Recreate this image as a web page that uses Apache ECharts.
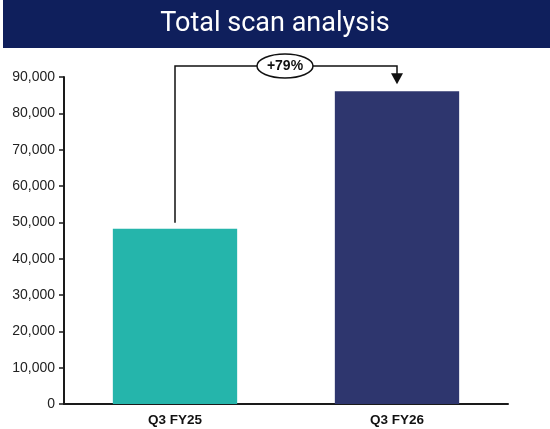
<!DOCTYPE html>
<html>
<head>
<meta charset="utf-8">
<script src="https://cdn.jsdelivr.net/npm/echarts@6/dist/echarts.min.js"></script>
<style>html,body{margin:0;padding:0;background:#fff}#c{width:550px;height:429px}</style>
</head>
<body>
<div id="c"></div>
<script>
const categories = ['Q3 FY25', 'Q3 FY26'];
const scans = [48200, 86100];
const barColors = ['#25b5ab', '#2e366e'];
const changeLabel = '+79%';
const titleText = 'Total scan analysis';

const chart = echarts.init(document.getElementById('c'), null, {renderer: 'canvas'});
chart.setOption({
  animation: false,
  grid: {left: 64, right: 42, top: 77, bottom: 25, containLabel: false},
  xAxis: {
    type: 'category',
    data: categories,
    axisLine: {lineStyle: {color: '#1a1a1a', width: 2}},
    axisTick: {show: false},
    axisLabel: {color: '#111', fontSize: 13.5, fontWeight: 'bold', fontFamily: 'Liberation Sans, Arial', margin: 9}
  },
  yAxis: {
    type: 'value',
    min: 0, max: 90000, interval: 10000,
    axisLine: {show: true, lineStyle: {color: '#1a1a1a', width: 2}},
    axisTick: {show: true, length: 5, lineStyle: {color: '#1a1a1a', width: 1.5}},
    splitLine: {show: false},
    axisLabel: {color: '#222', fontSize: 14, fontFamily: 'Liberation Sans, Arial', margin: 9,
      formatter: v => v.toLocaleString('en-US')}
  },
  series: [{
    type: 'bar',
    barWidth: '56%',
    data: scans.map((v, i) => ({value: v, itemStyle: {color: barColors[i]}}))
  }]
});

function drawGraphics() {
  const p0 = chart.convertToPixel({seriesIndex: 0}, [0, scans[0]]);
  const p1 = chart.convertToPixel({seriesIndex: 0}, [1, scans[1]]);
  const lineY = 66;
  const x0 = p0[0], x1 = p1[0];
  const midX = (x0 + x1) / 2 - 1;
  const arrowTip = p1[1] - 7;
  chart.setOption({
    graphic: [
      {type: 'rect', shape: {x: 3, y: 0, width: 547, height: 48}, style: {fill: '#0f1f5c'}, z: 10},
      {type: 'text', x: 275, y: 24, style: {text: titleText, fill: '#fff', font: '27px Roboto, sans-serif', align: 'center', verticalAlign: 'middle'}, z: 11},
      {type: 'polyline', shape: {points: [[x0, p0[1] - 6], [x0, lineY], [x1, lineY], [x1, arrowTip - 9]]},
        style: {stroke: '#111', lineWidth: 1.5, fill: null}, z: 10},
      {type: 'polygon', shape: {points: [[x1 - 6, arrowTip - 11], [x1 + 6, arrowTip - 11], [x1, arrowTip]]},
        style: {fill: '#111'}, z: 10},
      {type: 'ellipse', shape: {cx: midX, cy: lineY, rx: 28, ry: 12}, style: {fill: '#fff', stroke: '#111', lineWidth: 1.5}, z: 11},
      {type: 'text', x: midX, y: lineY + 0.5, style: {text: changeLabel, fill: '#111', font: 'bold 14px Liberation Sans, Arial', align: 'center', verticalAlign: 'middle'}, z: 12}
    ]
  });
}
drawGraphics();
</script>
</body>
</html>
